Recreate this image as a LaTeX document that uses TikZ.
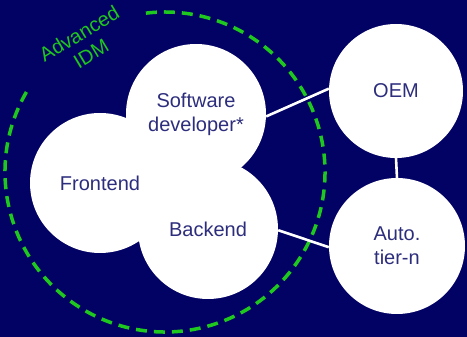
\documentclass[tikz,border=0pt]{standalone}
\usepackage{fontspec}
\setmainfont{Liberation Sans}
\definecolor{navy}{RGB}{2,1,100}
\definecolor{txt}{RGB}{45,45,125}
\definecolor{idmgreen}{RGB}{30,200,30}
\begin{document}
\begin{tikzpicture}[x=1pt,y=1pt,
  bubble/.style={circle,fill=white,inner sep=0pt,text=txt,align=center,font=\fontsize{20}{24}\selectfont},
  link/.style={white,line width=2.6pt}]
\useasboundingbox (0,0) rectangle (467,337);
\fill[navy] (0,0) rectangle (467,337);
% dashed green arc
\coordinate (dc) at (165,165);
\draw[idmgreen,line width=3.5pt,dash pattern=on 11pt off 7pt]
  ([shift={(150:160)}]dc) arc[start angle=150,end angle=457,radius=160];
\node[text=idmgreen,rotate=31,align=center,font=\fontsize{20}{23}\selectfont] (lbl) at (85,293.5) {Advanced\\IDM};
% circles
\node[bubble,minimum size=140pt] (sw) at (196,223) {Software\\developer*};
\node[bubble,minimum size=140pt] (fe) at (100,154) {Frontend};
\node[bubble,minimum size=140pt] (be) at (208,108) {Backend};
\node[bubble,minimum size=134pt] (oem) at (396,246) {OEM};
\node[bubble,minimum size=136pt] (auto) at (397,91) {Auto.\\tier-n};
% connectors
\draw[link] (sw.-2) -- (oem.178);
\draw[link] (be.-1) -- (auto.181);
\draw[link] (oem.south) -- (auto.north);
\end{tikzpicture}
\end{document}
